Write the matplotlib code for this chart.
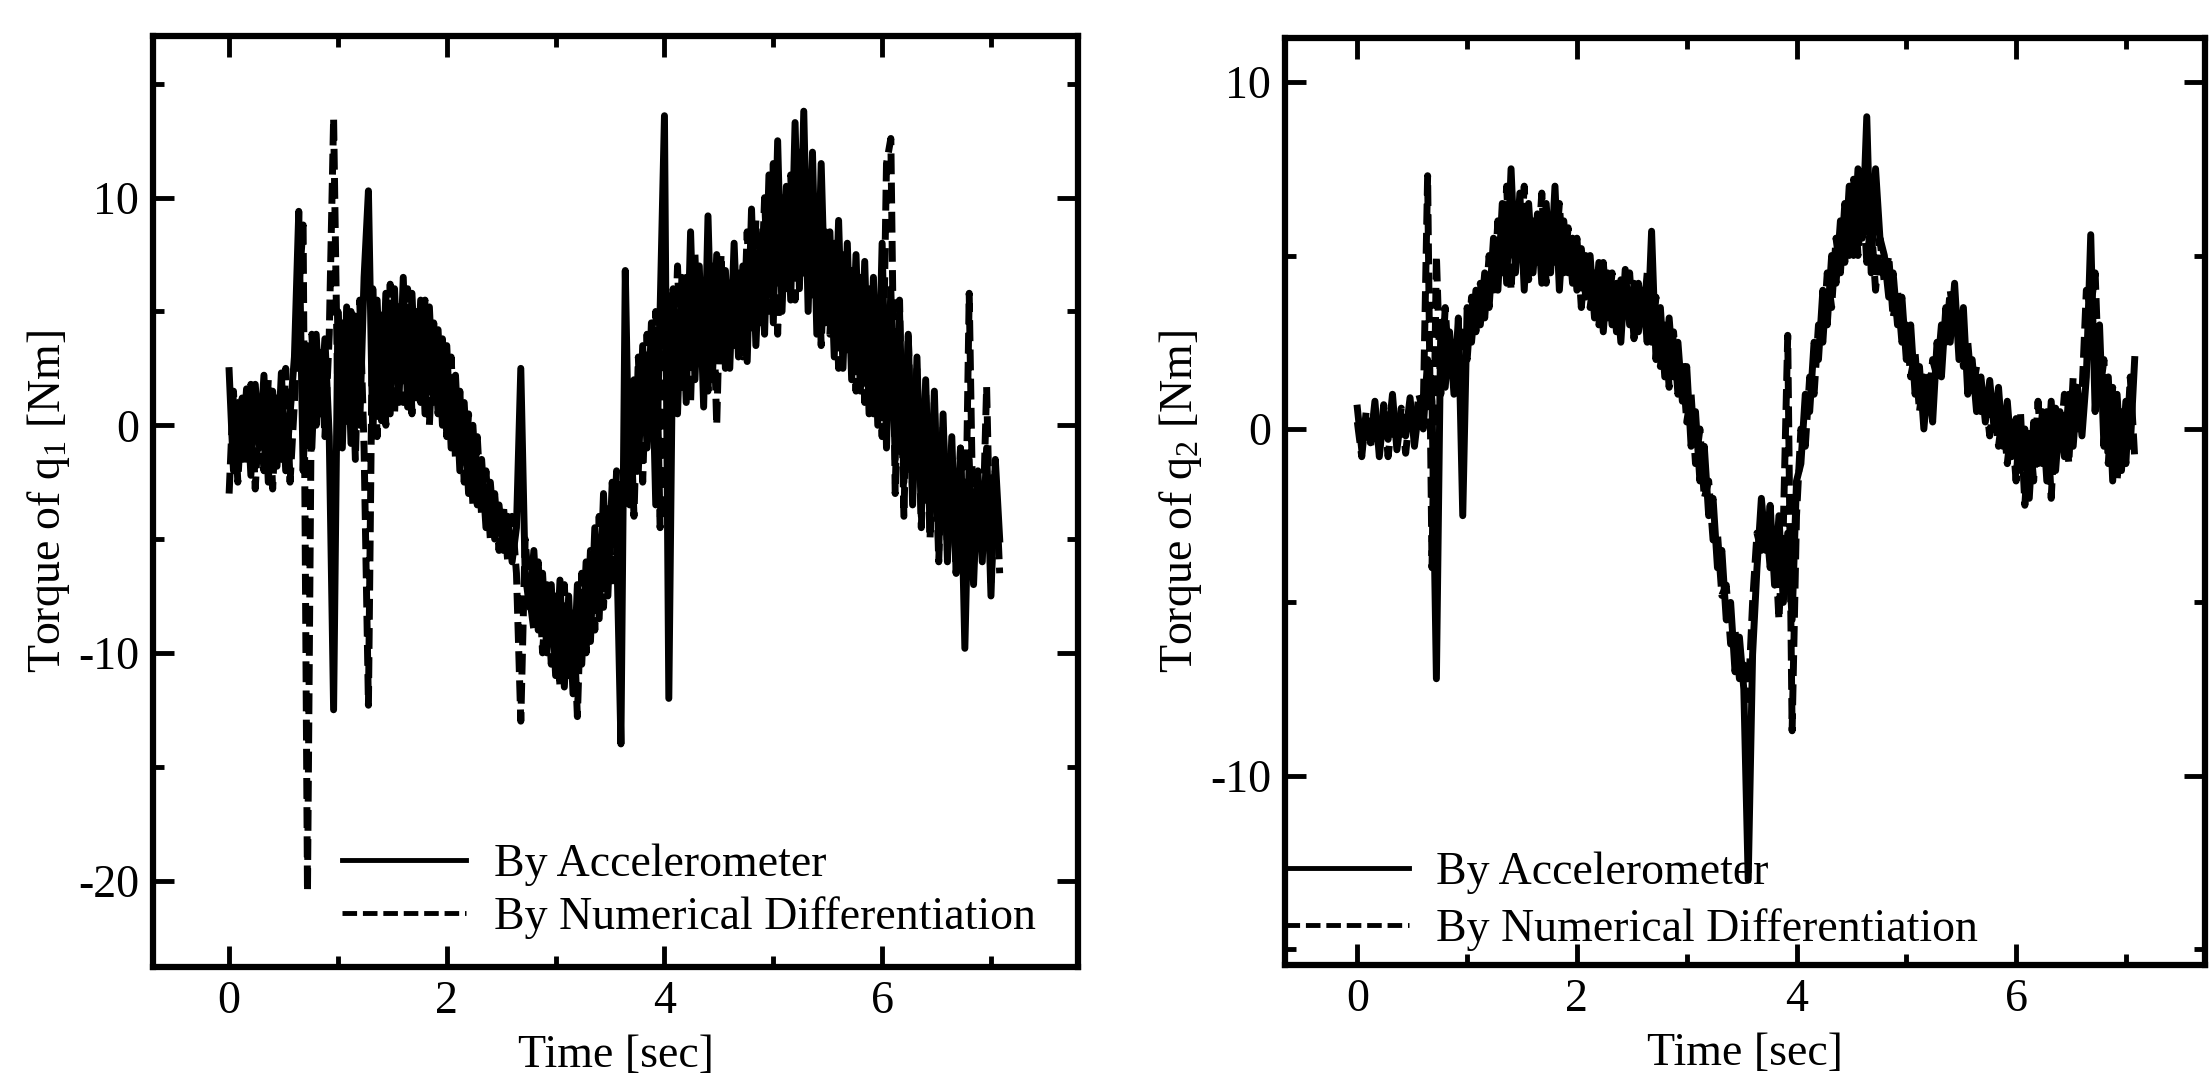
import numpy as np
import matplotlib
matplotlib.use("Agg")
import matplotlib.pyplot as plt
from matplotlib.ticker import MultipleLocator

plt.rcParams['font.family'] = ['Liberation Serif', 'DejaVu Serif']
plt.rcParams['mathtext.default'] = 'regular'
plt.rcParams['axes.unicode_minus'] = False

DT = 0.04

q1_accel = [
    2.4, -2.0, 1.0, -1.5, 1.6, -2.2, 1.8, -1.0, 2.2, -2.5, 1.5, -1.8, 2.3, -2.0, 0.5, 3.0,
    9.4, -2.0, 3.5, -1.0, 4.0, 0.5, 3.8, -0.5, -12.5, 5.0, -1.0, 5.2, -0.8, 4.8, 0.0, 6.5,
    10.3, -0.5, 5.5, 0.2, 5.8, 0.5, 6.0, 1.0, 6.5, 0.8, 5.8, 1.2, 5.5, 0.5, 5.2, 1.0,
    4.2, 0.0, 3.5, -1.0, 2.2, -2.0, 1.0, -3.0, 0.0, -3.5, -1.5, -4.5, -2.5, -5.0, -3.5, -5.5,
    -4.0, -6.0, -4.5, 2.5, -6.5, -8.0, -5.5, -9.0, -6.5, -10.0, -7.0, -11.0, -6.8, -11.5, -7.5, -11.8,
    -7.0, -10.5, -6.0, -9.5, -4.5, -8.5, -3.0, -7.5, -2.5, -5.0, -14.0, 6.8, -3.5, 2.0, -2.0, 3.5,
    -1.0, 4.5, -3.5, 5.0, 13.6, -12.0, 6.0, 0.5, 6.5, 1.0, 8.5, 2.0, 7.0, 0.8, 9.2, 2.0,
    7.5, 3.0, 6.8, 2.5, 8.0, 3.0, 7.0, 2.8, 9.5, 3.5, 8.0, 4.0, 11.0, 4.5, 12.5, 5.0,
    10.5, 5.5, 13.3, 6.0, 13.8, 5.0, 12.0, 4.0, 11.5, 4.5, 8.5, 3.0, 9.0, 2.5, 8.0, 2.0,
    7.5, 1.5, 7.2, 0.5, 6.5, 0.0, 8.0, -1.0, 6.0, -1.5, 5.0, -2.5, 4.0, -3.5, 3.0, -4.0,
    2.0, -4.5, 1.5, -5.5, 0.5, -6.0, -0.5, -6.5, -1.0, -9.8, -1.5, -7.0, -2.0, -6.0, -1.0, -7.5,
    -1.5, -5.0,
]

q1_numdiff = [
    -3.0, 1.5, -2.5, 1.2, -1.8, 1.8, -2.8, 1.0, -2.0, 2.0, -2.8, 1.5, -1.5, 2.5, -2.5, 1.0,
    6.0, 8.8, -20.5, 4.0, 0.0, 3.5, -0.5, 4.0, 13.5, 0.5, 4.5, 0.0, 5.0, -1.5, 5.5, -1.0,
    -12.3, 6.0, -0.5, 5.0, 0.0, 6.2, 0.5, 5.5, 1.0, 6.0, 0.5, 5.0, 1.0, 5.5, 0.0, 4.5,
    0.5, 3.8, -0.5, 3.0, -1.5, 1.5, -2.5, 0.5, -3.5, -0.5, -4.0, -2.0, -5.0, -3.0, -5.5, -3.5,
    -6.0, -4.0, -6.5, -13.0, -5.0, -7.5, -9.0, -6.0, -10.0, -7.0, -10.5, -7.5, -11.5, -7.0, -11.0, -8.0,
    -12.8, -6.5, -10.0, -5.5, -9.0, -4.0, -8.0, -3.5, -7.0, -2.0, -4.5, -1.0, 1.5, -4.0, 3.0, -2.5,
    4.0, -0.5, 5.0, -4.5, 3.5, 6.0, 1.0, 7.0, 1.5, 6.5, 1.0, 7.5, 2.5, 6.0, 1.5, 7.0,
    0.0, 7.5, 2.5, 6.5, 3.5, 7.0, 3.0, 8.5, 4.0, 9.0, 4.5, 10.0, 5.0, 11.5, 4.0, 10.0,
    6.0, 11.0, 5.5, 12.0, 6.5, 10.5, 5.5, 9.5, 3.5, 8.5, 4.0, 8.0, 2.5, 7.5, 3.0, 7.0,
    1.5, 6.5, 1.0, 6.0, 0.5, 5.5, -0.5, 11.5, 12.6, -3.0, 5.5, -4.0, 4.0, -3.0, 2.5, -4.5,
    1.5, -5.0, 1.0, -6.0, 0.0, -5.5, -1.5, -6.5, -1.0, -7.0, 5.8, -6.0, -2.5, -5.5, 1.7, -7.0,
    -2.0, -6.5,
]

q2_accel = [
    0.6, -0.6, 0.3, -0.4, 0.8, -0.8, 0.5, -0.3, 1.0, -0.6, 0.4, -0.2, 0.9, -0.5, 0.6, 0.0,
    2.0, 0.8, -7.2, 3.0, 1.2, 2.8, 1.0, 3.2, -2.5, 3.5, 2.5, 4.0, 3.0, 4.5, 3.5, 5.5,
    4.0, 6.5, 4.2, 7.5, 4.5, 6.8, 4.0, 6.5, 4.5, 6.2, 4.2, 6.5, 4.5, 7.0, 4.0, 6.0,
    4.5, 5.5, 4.0, 5.2, 3.8, 5.0, 3.2, 4.8, 2.8, 4.5, 3.0, 4.2, 2.5, 4.6, 3.0, 4.2,
    2.8, 4.0, 2.5, 5.7, 2.0, 3.5, 1.5, 3.2, 1.5, 2.5, 0.8, 1.8, -0.5, 0.5, -1.5, -0.5,
    -2.5, -2.0, -4.0, -3.5, -5.5, -5.0, -7.0, -6.0, -7.5, -13.0, -6.5, -4.0, -2.0, -3.5, -2.2, -4.5,
    -2.5, -5.0, -3.0, -5.5, -1.5, -1.0, 1.0, 0.5, 2.5, 2.0, 4.0, 3.0, 5.0, 4.2, 6.0, 4.8,
    7.0, 5.0, 7.5, 5.5, 9.0, 4.5, 7.5, 5.5, 5.0, 3.8, 4.5, 3.0, 3.8, 2.0, 3.0, 1.0,
    1.8, 0.0, 1.5, 0.2, 2.5, 1.5, 3.5, 2.5, 4.2, 2.0, 3.5, 1.0, 2.0, 0.5, 1.5, 0.2,
    1.4, 0.0, 1.2, -0.5, 0.8, -0.8, 0.3, -1.2, 0.0, -2.0, 0.2, -1.0, 0.5, -1.5, 0.8, -1.2,
    0.5, -0.8, 1.0, -0.5, 1.2, -0.2, 1.5, 5.6, 0.5, 3.0, -0.5, 1.5, -1.5, 1.0, -1.2, 0.8,
    -0.5, 2.0,
]

q2_numdiff = [
    0.2, -0.8, 0.5, -0.5, 0.3, -0.6, 0.7, -0.8, 0.4, -0.3, 0.6, -0.7, 0.5, -0.2, 1.0, 0.5,
    7.3, -4.0, 5.0, 1.0, 3.5, 1.5, 2.5, 1.2, 3.0, 2.0, 3.8, 2.8, 4.2, 3.2, 5.0, 3.8,
    6.0, 4.5, 7.0, 4.0, 6.5, 4.8, 7.0, 4.3, 6.0, 4.8, 6.8, 4.2, 6.2, 4.8, 6.5, 4.5,
    5.8, 4.2, 5.5, 3.5, 5.0, 3.5, 4.5, 3.0, 4.8, 3.2, 4.5, 2.8, 4.3, 3.2, 4.5, 2.6,
    4.2, 3.0, 4.5, 2.5, 3.8, 1.8, 3.0, 1.2, 2.8, 1.0, 2.0, 0.2, 1.0, -1.0, 0.0, -2.0,
    -1.5, -3.2, -3.0, -4.8, -4.5, -6.2, -5.8, -7.2, -6.8, -7.8, -5.0, -3.0, -3.5, -2.5, -4.0, -3.0,
    -5.5, -2.8, 2.7, -8.7, -2.5, 0.0, -0.5, 1.5, 1.0, 3.0, 2.5, 4.5, 3.5, 5.5, 4.5, 6.5,
    5.0, 7.2, 5.0, 7.0, 4.8, 6.0, 4.0, 5.5, 4.2, 5.0, 3.2, 4.0, 2.5, 3.0, 1.5, 2.2,
    0.5, 1.5, 0.5, 2.0, 1.5, 3.0, 2.5, 4.0, 3.0, 3.2, 1.8, 2.5, 1.0, 1.8, 0.5, 1.0,
    -0.2, 0.8, -0.5, 0.5, -1.0, 0.2, -1.5, 0.5, -2.2, 0.0, -1.5, 0.8, -1.0, 0.5, -2.0, 0.6,
    -0.5, 1.0, -1.0, 1.5, 0.0, 1.0, 4.0, 3.5, 4.5, 1.0, 2.0, -1.0, 1.2, -1.5, 0.5, -1.0,
    1.5, -0.8,
]

labels = ["By Accelerometer", "By Numerical Differentiation"]
ylabels = ["Torque of q$_1$ [Nm]", "Torque of q$_2$ [Nm]"]
xlims = [(-0.7, 7.8), (-0.66, 7.72)]
ylims = [(-23.8, 17.1), (-15.45, 11.27)]
x_major, x_minor = 2, 1
y_major, y_minor = 10, 5

FS = 33
fig = plt.figure(figsize=(22.10, 10.76), dpi=100)
axL = fig.add_axes([0.0692, 0.1013, 0.4186, 0.8652])
axR = fig.add_axes([0.5814, 0.1032, 0.4163, 0.8615])

series = [(q1_accel, q1_numdiff), (q2_accel, q2_numdiff)]
for k, (ax, (acc, nd)) in enumerate(zip([axL, axR], series)):
    ta = np.arange(len(acc)) * DT
    tn = np.arange(len(nd)) * DT
    ax.plot(tn, nd, color='black', lw=5.0, ls=(0, (3.0, 1.2)), label=labels[1], zorder=2)
    ax.plot(ta, acc, color='black', lw=5.0, ls='-', label=labels[0], zorder=3)
    ax.set_xlim(*xlims[k])
    ax.set_ylim(*ylims[k])
    ax.xaxis.set_major_locator(MultipleLocator(x_major))
    ax.xaxis.set_minor_locator(MultipleLocator(x_minor))
    ax.yaxis.set_major_locator(MultipleLocator(y_major))
    ax.yaxis.set_minor_locator(MultipleLocator(y_minor))
    ax.tick_params(which='both', direction='in', top=True, right=True, width=3.5,
                   labelsize=FS, pad=10)
    ax.tick_params(which='major', length=15)
    ax.tick_params(which='minor', length=8)
    for s in ax.spines.values():
        s.set_linewidth(4.5)
    ax.set_xlabel("Time [sec]", fontsize=FS, labelpad=8)
    ax.set_ylabel(ylabels[k], fontsize=FS, labelpad=4)
    h, l = ax.get_legend_handles_labels()
    order = [1, 0]
    if k == 0:
        anchor = (0.195, 0.02)
        spacing = 0.22
    else:
        anchor = (-0.01, 0.005)
        spacing = 0.32
    leg = ax.legend([h[i] for i in order], [l[i] for i in order], loc='lower left',
                    bbox_to_anchor=anchor, frameon=False, fontsize=FS, handlelength=2.7,
                    handletextpad=0.6, labelspacing=spacing, borderpad=0.2, borderaxespad=0)
    for ln in leg.get_lines():
        ln.set_linewidth(3.5)

fig.savefig("out.png", dpi=100)
